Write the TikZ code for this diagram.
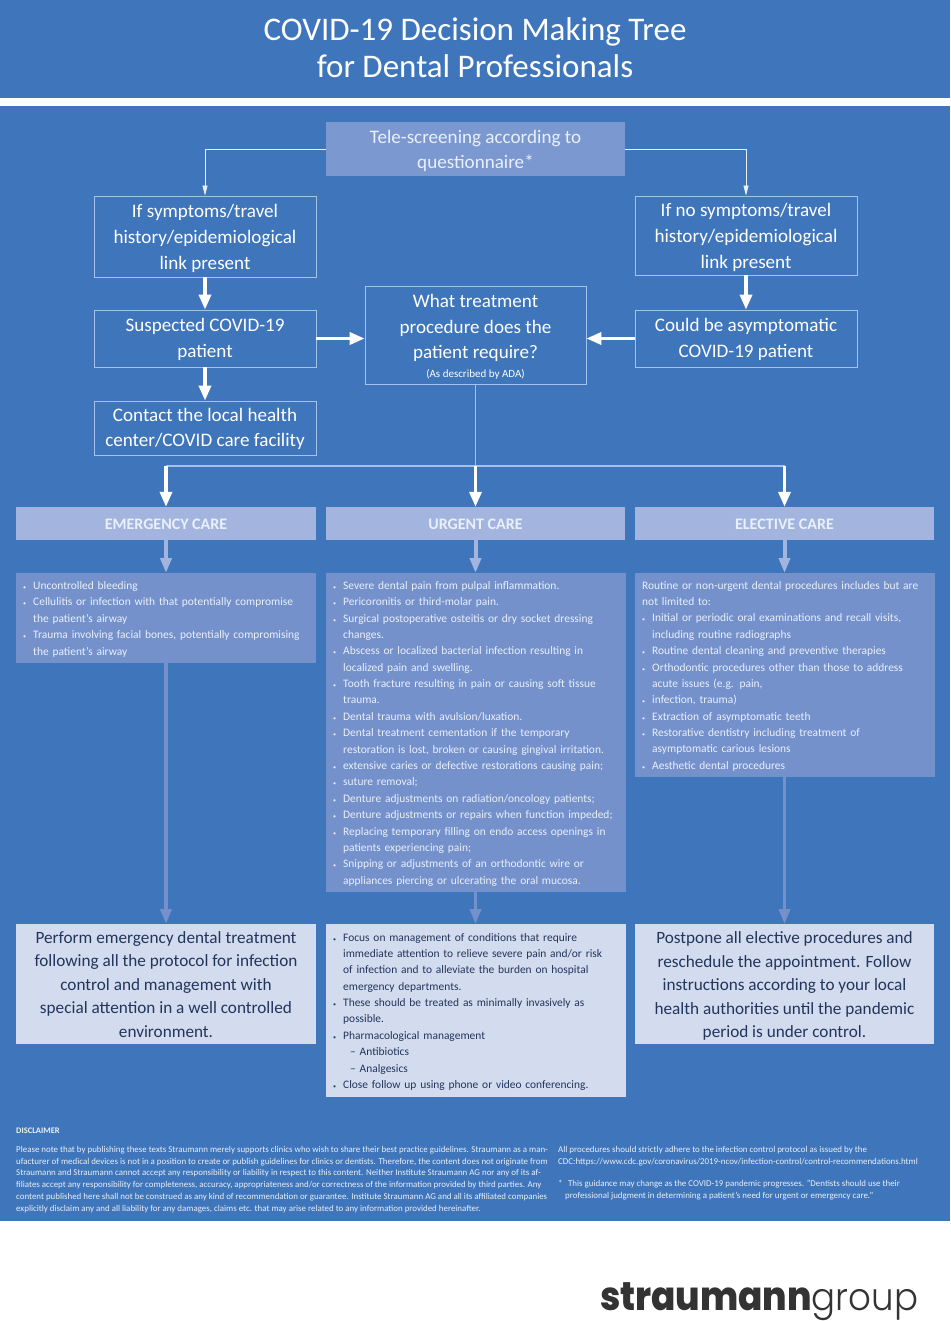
\documentclass[tikz,border=0pt]{standalone}
\usepackage{fontspec}
\usepackage{tikz}
\usetikzlibrary{arrows.meta}
\usetikzlibrary{calc}
\setmainfont{Carlito}
\newfontfamily\logofont{Poppins ExtraBold}
\newfontfamily\logolight{Poppins Light}
\definecolor{bgblue}{HTML}{3F75BA}
\definecolor{edgeblue}{HTML}{A5C3EA}
\definecolor{teleblue}{HTML}{7B98D0}
\definecolor{careblue}{HTML}{A3B5DE}
\definecolor{listblue}{HTML}{7491CC}
\definecolor{paleblue}{HTML}{D3DBEE}
\definecolor{paletext}{HTML}{EAF0F9}
\definecolor{darktext}{HTML}{22355C}
\definecolor{logogrey}{HTML}{333333}
\newcommand{\bigtxt}{\fontsize{19.1}{25.6}\selectfont}
\newcommand{\lasttxt}{\fontsize{17.2}{23.5}\selectfont}
\newcommand{\smalltxt}{\fontsize{11.45}{16.38}\selectfont}
\newcommand{\tinytxt}{\fontsize{8.9}{11.8}\selectfont}
\newcommand{\itm}{\makebox[13pt][l]{\hspace*{3pt}{\fontsize{6}{6}\selectfont •}}}
\newcommand{\gap}{\hspace*{13pt}}
\begin{document}
\begin{tikzpicture}[x=1pt,y=-1pt,
  flowbox/.style={draw=edgeblue,line width=.8pt,text=white,align=center,font=\bigtxt,inner sep=0pt,minimum width=222pt},
  carebox/.style={fill=careblue,text=paletext,font=\fontsize{16}{16}\selectfont\bfseries,inner sep=0pt,minimum width=299.5pt,minimum height=33pt},
  listbox/.style={fill=listblue,text=paletext,font=\smalltxt,align=left,inner xsep=4pt,inner ysep=0pt,text width=291.5pt},
  lastbox/.style={fill=paleblue,text=darktext,font=\lasttxt,align=center,inner sep=0pt,minimum width=299.5pt},
  thinarrow/.style={draw=paletext,line width=.8pt,-{Triangle[length=10pt,width=5pt]}},
  whitearrow/.style={draw=white,line width=3.5pt,-{Triangle[length=15pt,width=12pt]}},
  palearrow/.style={draw=careblue,line width=4pt,-{Triangle[length=15pt,width=11pt]}},
  lowarrow/.style={draw=listblue,line width=3.5pt,-{Triangle[length=15pt,width=11pt]}}]
\useasboundingbox (0,0) rectangle (950,1321);
\fill [bgblue] (0,0) rectangle (950,1221);
\fill [white] (0,98) rectangle (950,106);
\node [text=white,align=center,font=\fontsize{33}{37}\selectfont] (title) at (475,48) {COVID-19 Decision Making Tree\\for Dental Professionals};
% top of the tree
\node [fill=teleblue,text=paletext,align=center,font=\bigtxt,inner sep=0pt,minimum width=299pt,minimum height=54pt] (tele) at (475.5,149) {\rule{0pt}{17pt}Tele-screening according to\\questionnaire*};
\node [flowbox,minimum height=81pt] (ifsym) at (205,236.5) {\rule{0pt}{17pt}If symptoms/travel\\history/epidemiological\\link present};
\node [flowbox,minimum height=79pt] (ifno) at (746,235.5) {\rule{0pt}{17pt}If no symptoms/travel\\history/epidemiological\\link present};
\node [flowbox,minimum height=57pt] (suspect) at (205,338.5) {\rule{0pt}{15pt}Suspected COVID-19\\patient};
\node [flowbox,minimum height=57pt] (asympt) at (746,338.5) {\rule{0pt}{15pt}Could be asymptomatic\\COVID-19 patient};
\node [flowbox,minimum width=221pt,minimum height=98pt] (what) at (475.5,335) {\rule{0pt}{17pt}What treatment\\procedure does the\\patient require?\\[-7pt]{\fontsize{11}{12}\selectfont (As described by ADA)}};
\node [flowbox,minimum height=54pt] (contact) at (205,428) {\rule{0pt}{15pt}Contact the local health\\center/COVID care facility};
\draw [thinarrow] (tele.west |- 0,149) -| (ifsym.north);
\draw [thinarrow] (tele.east |- 0,149) -| (ifno.north);
\draw [whitearrow] (ifsym) -- (suspect);
\draw [whitearrow] (ifno) -- (asympt);
\draw [whitearrow] (suspect) -- (contact);
\draw [whitearrow] (suspect.east) -- (what.west |- suspect.east);
\draw [whitearrow] (asympt.west) -- (what.east |- asympt.west);
% three kinds of care
\node [carebox] (emerg) at (166,523.5) {\rule{0pt}{13pt}EMERGENCY CARE};
\node [carebox] (urgent) at (475.5,523.5) {\rule{0pt}{13pt}URGENT CARE};
\node [carebox] (elect) at (784.5,523.5) {\rule{0pt}{13pt}ELECTIVE CARE};
\coordinate (split) at (475,466);
\draw [draw=edgeblue,line width=.8pt] (what.south -| split) -- (split);
\draw [draw=edgeblue,line width=1.5pt] (emerg.north |- split) -- (elect.north |- split);
\draw [whitearrow] (emerg.north |- split) -- (emerg.north);
\draw [whitearrow] (urgent.north |- split) -- (urgent.north);
\draw [whitearrow] (elect.north |- split) -- (elect.north);
\node [listbox,anchor=north west,minimum height=90pt] (emlist) at (16,573) {\rule{0pt}{10pt}\itm Uncontrolled bleeding\\
\itm Cellulitis or infection with that potentially compromise\\
\gap the patient's airway\\
\itm Trauma involving facial bones, potentially compromising\\
\gap the patient's airway};
\node [listbox,anchor=north west,minimum height=319pt] (urlist) at (326,573) {\rule{0pt}{10pt}\itm Severe dental pain from pulpal inflammation.\\
\itm Pericoronitis or third-molar pain.\\
\itm Surgical postoperative osteitis or dry socket dressing\\
\gap changes.\\
\itm Abscess or localized bacterial infection resulting in\\
\gap localized pain and swelling.\\
\itm Tooth fracture resulting in pain or causing soft tissue\\
\gap trauma.\\
\itm Dental trauma with avulsion/luxation.\\
\itm Dental treatment cementation if the temporary\\
\gap restoration is lost, broken or causing gingival irritation.\\
\itm extensive caries or defective restorations causing pain;\\
\itm suture removal;\\
\itm Denture adjustments on radiation/oncology patients;\\
\itm Denture adjustments or repairs when function impeded;\\
\itm Replacing temporary filling on endo access openings in\\
\gap patients experiencing pain;\\
\itm Snipping or adjustments of an orthodontic wire or\\
\gap appliances piercing or ulcerating the oral mucosa.};
\node [listbox,anchor=north west,minimum height=204pt] (ellist) at (635,573) {\rule{0pt}{10pt}\hspace*{3pt}Routine or non-urgent dental procedures includes but are\\
\hspace*{3pt}not limited to:\\
\itm Initial or periodic oral examinations and recall visits,\\
\gap including routine radiographs\\
\itm Routine dental cleaning and preventive therapies\\
\itm Orthodontic procedures other than those to address\\
\gap acute issues (e.g. pain,\\
\itm infection, trauma)\\
\itm Extraction of asymptomatic teeth\\
\itm Restorative dentistry including treatment of\\
\gap asymptomatic carious lesions\\
\itm Aesthetic dental procedures};
\node [lastbox,minimum height=120pt,anchor=north] (emend) at (166,924) {Perform emergency dental treatment\\following all the protocol for infection\\control and management with\\special attention in a well controlled\\environment.};
\node [listbox,anchor=north west,fill=paleblue,text=darktext,minimum height=173pt] (urend) at (326,924) {\rule{0pt}{10pt}\itm Focus on management of conditions that require\\
\gap immediate attention to relieve severe pain and/or risk\\
\gap of infection and to alleviate the burden on hospital\\
\gap emergency departments.\\
\itm These should be treated as minimally invasively as\\
\gap possible.\\
\itm Pharmacological management\\
\gap\hspace*{7pt}-- Antibiotics\\
\gap\hspace*{7pt}-- Analgesics\\
\itm Close follow up using phone or video conferencing.};
\node [lastbox,minimum height=120pt,anchor=north] (elend) at (784.5,924) {\rule{0pt}{15.5pt}Postpone all elective procedures and\\reschedule the appointment. Follow\\instructions according to your local\\health authorities until the pandemic\\period is under control.};
\draw [palearrow] (emerg) -- (emerg |- emlist.north);
\draw [palearrow] (urgent) -- (urgent |- urlist.north);
\draw [palearrow] (elect) -- (elect |- ellist.north);
\draw [lowarrow] (emerg |- emlist.south) -- (emend.north);
\draw [lowarrow] (urgent |- urlist.south) -- (urend.north -| urgent);
\draw [lowarrow] (elect |- ellist.south) -- (elend.north);
% small print
\node [anchor=west,text=paletext,inner sep=0pt,font=\fontsize{8.5}{9}\selectfont\bfseries] (disc) at (16,1131) {DISCLAIMER};
\node [anchor=north west,text=paletext,inner sep=0pt,align=left,font=\tinytxt] (small) at (16,1146) {Please note that by publishing these texts Straumann merely supports clinics who wish to share their best practice guidelines. Straumann as a man-\\
ufacturer of medical devices is not in a position to create or publish guidelines for clinics or dentists. Therefore, the content does not originate from\\
Straumann and Straumann cannot accept any responsibility or liability in respect to this content. Neither Institute Straumann AG nor any of its af-\\
filiates accept any responsibility for completeness, accuracy, appropriateness and/or correctness of the information provided by third parties. Any\\
content published here shall not be construed as any kind of recommendation or guarantee. Institute Straumann AG and all its affiliated companies\\
explicitly disclaim any and all liability for any damages, claims etc. that may arise related to any information provided hereinafter.};
\node [anchor=north west,text=paletext,inner sep=0pt,align=left,font=\tinytxt] (proc) at (558,1146) {All procedures should strictly adhere to the infection control protocol as issued by the\\
CDC:https://www.cdc.gov/coronavirus/2019-ncov/infection-control/control-recommendations.html};
\node [anchor=north west,text=paletext,inner sep=0pt,align=left,font=\tinytxt] (guide) at (558,1180) {*\makebox[5.5pt]{}This guidance may change as the COVID-19 pandemic progresses. "Dentists should use their\\
\hspace*{7pt}professional judgment in determining a patient's need for urgent or emergency care."};
\node [anchor=base west,text=logogrey,inner sep=0pt] (logo) at (600,1310) {\scalebox{.894}[1]{\logofont\fontsize{40}{40}\selectfont straumann}\scalebox{.937}[1]{\logolight\fontsize{38}{38}\selectfont group}};
\end{tikzpicture}
\end{document}
